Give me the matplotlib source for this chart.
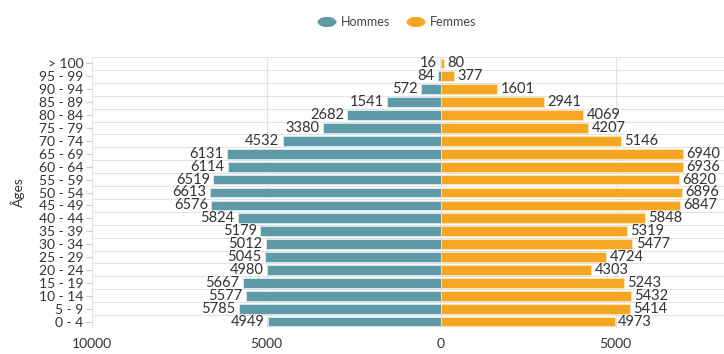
import matplotlib
matplotlib.use("Agg")
import matplotlib.pyplot as plt
from matplotlib.patches import FancyBboxPatch

plt.rcParams['font.family'] = ['Lato', 'DejaVu Sans']

age_groups = ["> 100", "95 - 99", "90 - 94", "85 - 89", "80 - 84", "75 - 79", "70 - 74",
              "65 - 69", "60 - 64", "55 - 59", "50 - 54", "45 - 49", "40 - 44", "35 - 39",
              "30 - 34", "25 - 29", "20 - 24", "15 - 19", "10 - 14", "5 - 9", "0 - 4"]
hommes = [16, 84, 572, 1541, 2682, 3380, 4532, 6131, 6114, 6519, 6613, 6576, 5824, 5179,
          5012, 5045, 4980, 5667, 5577, 5785, 4949]
femmes = [80, 377, 1601, 2941, 4069, 4207, 5146, 6940, 6936, 6820, 6896, 6847, 5848, 5319,
          5477, 4724, 4303, 5243, 5432, 5414, 4973]
x_ticks = [-10000, -5000, 0, 5000]
x_tick_labels = ["10000", "5000", "0", "5000"]

c_h = "#5e9ba6"
c_f = "#f5a623"
txt = "#333333"

W, H = 724, 354
fig = plt.figure(figsize=(W / 100, H / 100), dpi=100)
ax = fig.add_axes([92 / W, 1 - 328 / H, (790 - 92) / W, (328 - 57) / H])

n = len(age_groups)
ys = list(range(n))[::-1]
ax.barh(ys, [-v for v in hommes], height=0.76, color=c_h, edgecolor="#d8ecef", linewidth=0.6, zorder=3)
ax.barh(ys, femmes, height=0.76, color=c_f, edgecolor="#fbe6b8", linewidth=0.6, zorder=3)

fs = 10.5
for y, v in zip(ys, hommes):
    ax.text(-v - 100, y, str(v), ha="right", va="center", fontsize=fs, color=txt, zorder=4)
for y, v in zip(ys, femmes):
    ax.text(v + 100, y, str(v), ha="left", va="center", fontsize=fs, color=txt, zorder=4)

ax.set_xlim(-10000, 10000)
ax.set_ylim(-0.5, n - 0.5)
ax.set_xticks(x_ticks)
ax.set_xticklabels(x_tick_labels, fontsize=10, color=txt)
ax.set_yticks(ys)
ax.set_yticklabels(age_groups, fontsize=10, color=txt)
ax.tick_params(axis="x", length=0, pad=7)
ax.tick_params(axis="y", length=4, color="#cccccc", pad=2)

for b in [i + 0.5 for i in range(-1, n)]:
    ax.axhline(b, color="#e3e3e3", linewidth=0.8, zorder=1)
for xv in x_ticks + [10000]:
    ax.axvline(xv, color="#e3e3e3", linewidth=0.8, zorder=1)
for s in ax.spines.values():
    s.set_visible(False)

ax.set_ylabel("Âges", fontsize=10, color=txt, labelpad=10)

# legend
def legend_item(x0, color, label):
    p = FancyBboxPatch((x0 / W, 1 - 27 / H), 20 / W, 10 / H,
                       boxstyle="round,pad=0,rounding_size=0.012",
                       transform=fig.transFigure, facecolor=color, edgecolor="none",
                       mutation_aspect=W / H)
    fig.patches.append(p)
    fig.text((x0 + 24) / W, 1 - 22 / H, label, fontsize=9, color="#444444", va="center", ha="left")

legend_item(317, c_h, "Hommes")
legend_item(406, c_f, "Femmes")

fig.savefig("out.png", dpi=100)
